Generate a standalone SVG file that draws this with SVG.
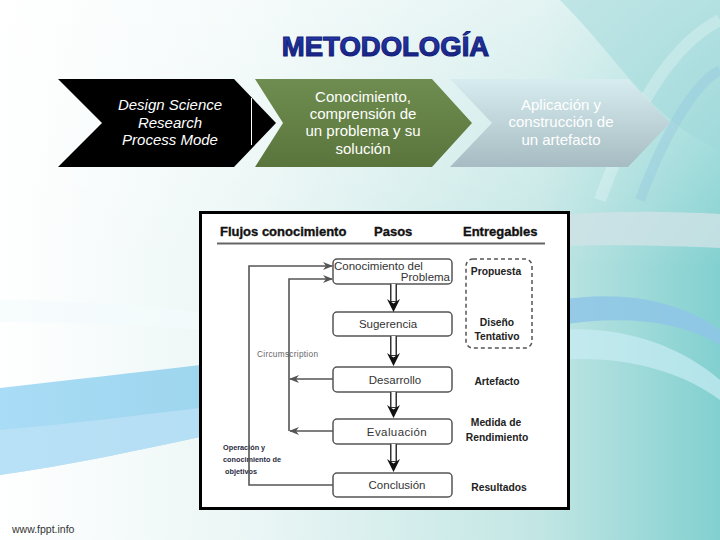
<svg xmlns="http://www.w3.org/2000/svg" xmlns:xlink="http://www.w3.org/1999/xlink" width="720" height="540" viewBox="0 0 720 540">
<defs>
  <linearGradient id="bgH" x1="0" y1="0" x2="1" y2="0">
    <stop offset="0" stop-color="#ffffff"/>
    <stop offset="0.35" stop-color="#eaf6f5"/>
    <stop offset="0.75" stop-color="#c2e6e4"/>
    <stop offset="1" stop-color="#82d0d0"/>
  </linearGradient>
  <linearGradient id="bgTop" x1="0" y1="0" x2="0" y2="1">
    <stop offset="0" stop-color="#ffffff" stop-opacity="0.55"/>
    <stop offset="0.5" stop-color="#ffffff" stop-opacity="0"/>
  </linearGradient>
  <linearGradient id="band" x1="0" y1="0" x2="1" y2="0">
    <stop offset="0" stop-color="#a9dcf6"/>
    <stop offset="1" stop-color="#9ed6ee"/>
  </linearGradient>
  <linearGradient id="green" x1="0" y1="0" x2="0" y2="1">
    <stop offset="0" stop-color="#6f8d50"/>
    <stop offset="1" stop-color="#5a753c"/>
  </linearGradient>
  <linearGradient id="pale" x1="0" y1="0" x2="0" y2="1">
    <stop offset="0" stop-color="#d6ecef"/>
    <stop offset="1" stop-color="#a7bcc2"/>
  </linearGradient>
  <linearGradient id="titleG" x1="0" y1="0" x2="0" y2="1">
    <stop offset="0" stop-color="#2a3db4"/>
    <stop offset="1" stop-color="#141f7a"/>
  </linearGradient>
  <marker id="arrR" viewBox="0 0 10 8" refX="9" refY="4" markerWidth="10" markerHeight="8" markerUnits="userSpaceOnUse" orient="auto">
    <path d="M0,0 L10,4 L0,8 L3,4 Z" fill="#555"/>
  </marker>
  <path id="dhead" d="M0,0 L-6.5,-13 L0,-8.5 L6.5,-13 Z" fill="#111"/>
  <style>
    .chev { font-family: "Liberation Sans", Arial, sans-serif; font-size: 15px; fill: #ffffff; text-anchor: middle; }
    .hdr { font-family: "Liberation Sans", Arial, sans-serif; font-size: 13px; font-weight: bold; fill: #111; stroke: #111; stroke-width: 0.35; }
    .box { fill: #ffffff; stroke: #555; stroke-width: 1.5; }
    .btxt { font-family: "Liberation Sans", Arial, sans-serif; font-size: 11.5px; fill: #333; text-anchor: middle; }
    .deliv { font-family: "Liberation Sans", Arial, sans-serif; font-size: 10.3px; font-weight: bold; fill: #222; text-anchor: middle; }
    .flow { fill: none; stroke: #555; stroke-width: 1.6; }
    .shaftO { fill: none; stroke: #333; stroke-width: 7; }
    .shaftI { fill: none; stroke: #ffffff; stroke-width: 4; }
    .small { font-family: "Liberation Sans", Arial, sans-serif; }
  </style>
</defs>

<!-- background -->
<g id="background">
  <rect x="0" y="0" width="720" height="540" fill="url(#bgH)"/>
  <rect x="0" y="0" width="720" height="540" fill="url(#bgTop)"/>
  <path d="M560,0 C620,60 650,120 720,150 L720,0 Z" fill="#9fd8da" opacity="0.5"/>
  <path d="M600,200 C640,90 680,40 720,20" fill="none" stroke="#ffffff" stroke-opacity="0.25" stroke-width="12"/>
  <path d="M640,200 C670,120 700,80 720,70" fill="none" stroke="#8fc4e0" stroke-opacity="0.35" stroke-width="10"/>
  <path d="M560,215 C620,210 680,212 720,214 L720,248 C680,246 620,244 560,246 Z" fill="#cfe2e6" opacity="0.8"/>
  <path d="M560,300 C620,290 680,300 720,330 L720,345 C680,320 620,315 560,325 Z" fill="#8ec6e6" opacity="0.85"/>
  <path d="M560,330 C620,325 680,345 720,380 L720,400 C680,370 620,355 560,360 Z" fill="#c8ecf4" opacity="0.7"/>
  <path d="M0,388 C70,380 140,372 200,365 L200,437 C140,450 70,465 0,475 Z" fill="url(#band)"/>
  <path d="M0,430 C70,424 140,415 200,408 L200,437 C140,450 70,465 0,475 Z" fill="#bfe3f6" opacity="0.7"/>
  <path d="M0,300 C70,300 140,305 200,312 L200,330 C140,325 70,322 0,322 Z" fill="#f4fbfc" opacity="0.7"/>
</g>

<!-- title -->
<text x="385.5" y="56" font-family="'Liberation Sans', Arial, sans-serif" font-size="27.5" font-weight="bold" fill="url(#titleG)" stroke="#141f7a" stroke-width="1.1" text-anchor="middle">METODOLOGÍA</text>

<!-- chevrons -->
<g id="chev3">
  <polygon points="450,79 628,79 670,123 628,167 450,167 492,123" fill="url(#pale)"/>
  <text class="chev"><tspan x="561" y="110">Aplicación y</tspan><tspan x="561" y="127">construcción  de</tspan><tspan x="561" y="145">un artefacto</tspan></text>
</g>
<g id="chev2">
  <polygon points="255,79 432,79 472,123 432,167 255,167 283,123" fill="url(#green)"/>
  <text class="chev"><tspan x="363" y="102">Conocimiento,</tspan><tspan x="363" y="119">comprensión de</tspan><tspan x="363" y="136">un problema y su</tspan><tspan x="363" y="154">solución</tspan></text>
</g>
<g id="chev1">
  <polygon points="58,79 234,79 276,123 234,167 58,167 102,123" fill="#000000"/>
  <line x1="251.5" y1="98" x2="251.5" y2="145" stroke="#ffffff" stroke-width="1"/>
  <text class="chev" font-style="italic"><tspan x="170" y="110">Design Science</tspan><tspan x="170" y="128">Research</tspan><tspan x="170" y="145">Process Mode</tspan></text>
</g>

<!-- picture frame -->
<g id="frame">
  <rect x="200.5" y="212.5" width="368" height="296" fill="#ffffff" stroke="#000" stroke-width="3"/>
  <text class="hdr" x="220" y="236">Flujos conocimiento</text>
  <text class="hdr" x="374" y="236">Pasos</text>
  <text class="hdr" x="463" y="236">Entregables</text>
  <line x1="217" y1="243.5" x2="545" y2="243.5" stroke="#666" stroke-width="2"/>
</g>

<!-- step nodes -->
<g id="n-conocimiento">
  <rect class="box" x="333" y="259" width="119" height="25" rx="4"/>
  <text class="btxt" x="334" y="270" style="text-anchor:start">Conocimiento del</text>
  <text class="btxt" x="450" y="281" style="text-anchor:end">Problema</text>
</g>
<g id="n-sugerencia">
  <rect class="box" x="333" y="312" width="119" height="24" rx="4"/>
  <text class="btxt" x="388" y="328">Sugerencia</text>
</g>
<g id="n-desarrollo">
  <rect class="box" x="333" y="367" width="119" height="25" rx="4"/>
  <text class="btxt" x="395" y="384">Desarrollo</text>
</g>
<g id="n-evaluacion">
  <rect class="box" x="333" y="419" width="119" height="25" rx="4"/>
  <text class="btxt" x="397" y="436" letter-spacing="0.4">Evaluación</text>
</g>
<g id="n-conclusion">
  <rect class="box" x="333" y="473" width="119" height="24" rx="4"/>
  <text class="btxt" x="397" y="489">Conclusión</text>
</g>

<!-- deliverables -->
<g id="n-entregables-1">
  <rect x="466" y="259" width="66" height="89" rx="7" fill="none" stroke="#555" stroke-width="1.5" stroke-dasharray="4,3"/>
  <text class="deliv" x="496" y="275">Propuesta</text>
  <text class="deliv" x="497" y="326">Diseño</text>
  <text class="deliv" x="497" y="340">Tentativo</text>
</g>
<g id="n-artefacto"><text class="deliv" x="497" y="385">Artefacto</text></g>
<g id="n-medida"><text class="deliv" x="496" y="426">Medida de</text><text class="deliv" x="497" y="441">Rendimiento</text></g>
<g id="n-resultados"><text class="deliv" x="499" y="491">Resultados</text></g>

<!-- labels -->
<g id="labels">
  <text class="small" x="257" y="357" font-size="8.3" fill="#666" textLength="61">Circumscription</text>
  <text class="small" font-size="7.3" font-weight="bold" fill="#2a2a40"><tspan x="223" y="450">Operación y</tspan><tspan x="223" y="462">conocimiento de</tspan><tspan x="225" y="474">objetivos</tspan></text>
</g>

<!-- connectors -->
<g id="connectors">
  <path class="flow" d="M333,485 H249 V266 H332" marker-end="url(#arrR)"/>
  <path class="flow" d="M289,431 V279 H332" marker-end="url(#arrR)"/>
  <path class="flow" d="M333,379 H290" marker-end="url(#arrR)"/>
  <path class="flow" d="M333,431 H290" marker-end="url(#arrR)"/>

  <path class="shaftO" d="M393.5,284 V302"/><path class="shaftI" d="M393.5,284 V301"/>
  <use xlink:href="#dhead" x="393.5" y="312"/>
  <path class="shaftO" d="M393.5,336 V356"/><path class="shaftI" d="M393.5,336 V355"/>
  <use xlink:href="#dhead" x="393.5" y="366"/>
  <path class="shaftO" d="M393.5,392 V408"/><path class="shaftI" d="M393.5,392 V407"/>
  <use xlink:href="#dhead" x="393.5" y="418"/>
  <path class="shaftO" d="M393.5,444 V462"/><path class="shaftI" d="M393.5,444 V461"/>
  <use xlink:href="#dhead" x="393.5" y="472"/>
</g>

<text x="12" y="533" font-family="'Liberation Sans', Arial, sans-serif" font-size="10.5" fill="#333">www.fppt.info</text>
</svg>
